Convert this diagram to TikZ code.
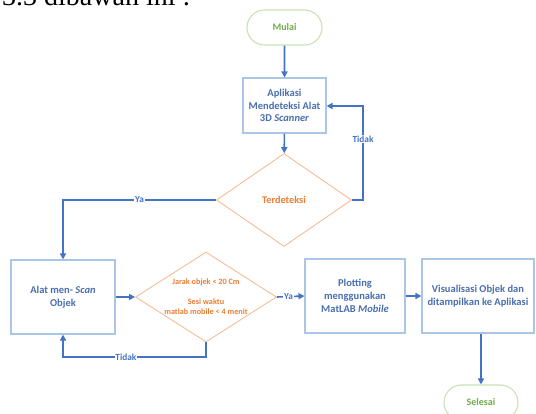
\documentclass[tikz,border=0pt]{standalone}
\usepackage{fontspec}
\setmainfont{Carlito}
\newfontfamily\docserif{Liberation Serif}
\usetikzlibrary{shapes.geometric,shapes.misc,arrows.meta}
\definecolor{arrowblue}{HTML}{4472C4}
\definecolor{boxline}{HTML}{A9C6E6}
\definecolor{boxtext}{HTML}{4A6FAE}
\definecolor{dialine}{HTML}{F6BE96}
\definecolor{diatext}{HTML}{ED7D31}
\definecolor{termline}{HTML}{C9E2B8}
\definecolor{termtext}{HTML}{70AD47}
\tikzset{
  procbox/.style={draw=boxline, line width=1.1pt, text=boxtext, font=\fontsize{10.5}{12.8}\selectfont\bfseries, align=center, inner sep=0pt},
  decision/.style={diamond, draw=dialine, line width=0.9pt, text=diatext, align=center, inner sep=0pt, shape aspect=1.6},
  terminal/.style={rounded rectangle, draw=termline, line width=1.1pt, text=termtext, font=\fontsize{10}{12}\selectfont\bfseries, inner sep=0pt},
  flow/.style={draw=arrowblue, line width=1.6pt, -{Triangle[length=6pt,width=6pt]}},
  flowlabel/.style={fill=white, text=arrowblue, font=\fontsize{9.3}{10}\selectfont\bfseries, inner sep=0.8pt}
}
\begin{document}
\begin{tikzpicture}[x=1pt,y=-1pt]
\clip (0,0) rectangle (536,414);
\fill[white] (0,0) rectangle (536,414);
\node[anchor=base west, inner sep=0pt, font=\docserif\fontsize{28}{30}\selectfont] (head) at (2,6) {3.3 dibawah ini :};

\node[terminal, minimum width=75pt, minimum height=35pt] (mulai) at (284.5,27.5) {Mulai};
\node[procbox, minimum width=83pt, minimum height=55pt] (app) at (284.5,105.5) {Aplikasi\\Mendeteksi Alat\\3D \textit{Scanner}};
\node[decision, minimum width=135pt, minimum height=93pt, font=\fontsize{10.3}{12}\selectfont\bfseries] (dia1) at (284,200) {Terdeteksi};
\node[procbox, minimum width=104pt, minimum height=74pt] (alat) at (63,297) {Alat men- \textit{Scan}\\Objek};
\node[decision, minimum width=141pt, minimum height=90pt, font=\fontsize{8.2}{10}\selectfont\bfseries] (dia2) at (206,297) {Jarak objek < 20 Cm\\[10pt]Sesi waktu\\matlab mobile < 4 menit};
\node[procbox, minimum width=100pt, minimum height=74pt] (plot) at (355,296) {Plotting\\menggunakan\\MatLAB \textit{Mobile}};
\node[procbox, minimum width=112pt, minimum height=74pt] (vis) at (478,296) {Visualisasi Objek dan\\ditampilkan ke Aplikasi};
\node[terminal, minimum width=74pt, minimum height=35pt] (sel) at (481,402.5) {Selesai};

\coordinate (t1a) at (363,200);
\coordinate (t1b) at (363,106);
\coordinate (y1a) at (63,200);
\coordinate (t2a) at (206,357);
\coordinate (t2b) at (63,357);

\draw[flow] (mulai) -- (app);
\draw[flow] (app) -- (dia1);
\draw[flow] (dia1.east) -- (t1a) -- node[flowlabel, pos=0.65] {Tidak} (t1b) -- (app.east |- t1b);
\draw[flow] (dia1.west) -- node[flowlabel, pos=0.5] {Ya} (y1a) -- (alat.north);
\draw[flow] (alat.east |- dia2.west) -- (dia2.west);
\draw[flow] (dia2.south) -- (t2a) -- node[flowlabel, pos=0.56] {Tidak} (t2b) -- (alat.south);
\draw[flow] (dia2.east) -- node[flowlabel, pos=0.42] {Ya} (plot.west);
\draw[flow] (plot.east) -- (vis.west);
\draw[flow] (vis.south -| sel.north) -- (sel.north);
\end{tikzpicture}
\end{document}
